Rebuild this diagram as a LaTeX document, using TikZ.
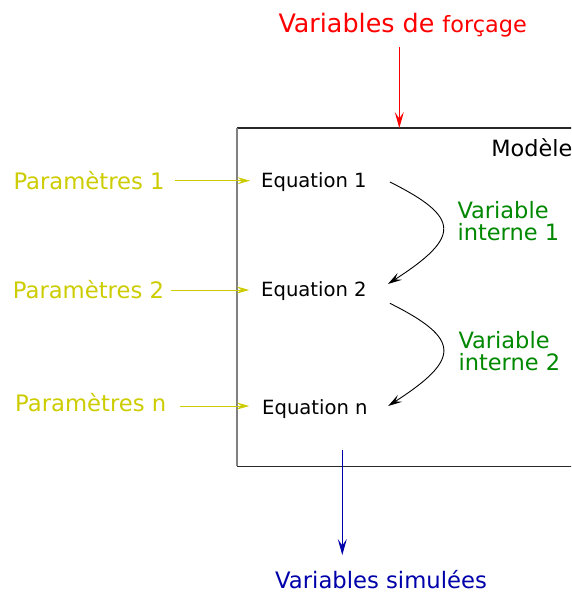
\documentclass[tikz,border=0pt]{standalone}
\usepackage{fontspec}
\setmainfont{DejaVu Sans}
\usetikzlibrary{arrows.meta}
\definecolor{cred}{RGB}{255,0,0}
\definecolor{cyel}{RGB}{204,204,0}
\definecolor{cgreen}{RGB}{0,136,0}
\definecolor{cblue}{RGB}{0,0,170}
\definecolor{boxdark}{RGB}{40,40,40}
\definecolor{boxgray}{RGB}{128,128,128}
\tikzset{
  lbl/.style={anchor=base west, inner sep=0pt},
  eqlbl/.style={lbl, font=\fontsize{19.6}{19.6}\selectfont},
  parlbl/.style={lbl, text=cyel, font=\fontsize{22.7}{22.7}\selectfont},
  varlbl/.style={anchor=north west, inner sep=0pt, align=left, text=cgreen, font=\fontsize{22.5}{22}\selectfont},
  yelarr/.style={draw=cyel, line width=1pt, -{Stealth[length=12.5pt,width=7pt,inset=4.5pt]}},
  redarr/.style={draw=cred, line width=1pt, -{Stealth[length=16pt,width=9pt,inset=6.5pt]}},
  bluarr/.style={draw=cblue, line width=1pt, -{Stealth[length=16pt,width=9pt,inset=6.5pt]}},
  blkarr/.style={draw=black, line width=0.9pt, -{Stealth[length=14pt,width=8pt,inset=5.5pt]}},
  boxline/.style={draw=boxdark, line width=1.5pt}
}
\begin{document}
\begin{tikzpicture}[x=1pt,y=-1pt]
\useasboundingbox (0,0) rectangle (571,592);
\clip (0,0) rectangle (571,592);
% box
\node[minimum width=370pt, minimum height=338pt, anchor=north west, inner sep=0pt] (model) at (237,128) {};
\draw[boxline] (model.south west) -- (model.south east) -- (model.north east) -- (model.north west);
\draw[draw=boxgray, line width=1.8pt] (model.north west) -- (model.south west);
% texts
\node[lbl, text=cred, font=\fontsize{25.4}{25.4}\selectfont] (title) at (278.3,32.3) {Variables de {\fontsize{22.4}{22.4}\selectfont forçage}};
\node[lbl, font=\fontsize{22.4}{22.4}\selectfont] (modl) at (491.2,156) {Modèle};
\node[eqlbl] (eq1) at (261,187.5) {Equation 1};
\node[eqlbl] (eq2) at (261,296) {Equation 2};
\node[eqlbl] (eqn) at (262,414) {Equation n};
\node[parlbl] (p1) at (13.3,189) {Paramètres 1};
\node[parlbl] (p2) at (12.7,298) {Paramètres 2};
\node[parlbl] (pn) at (15,411.5) {Paramètres n};
\node[varlbl] (vi1) at (457.3,201.4) {Variable\\interne 1};
\node[varlbl] (vi2) at (458.3,331.4) {Variable\\interne 2};
\node[lbl, text=cblue, font=\fontsize{22.7}{22.7}\selectfont] (sim) at (275,588) {Variables simulées};
% forcing arrow
\draw[redarr] ([shift={(121pt,-14.4pt)}]title.base west) coordinate (ra) -- (ra |- model.north);
% parameter arrows
\draw[yelarr] ([shift={(10.4pt,8.3pt)}]p1.base east) -- ([shift={(-11pt,6.8pt)}]eq1.base west);
\draw[yelarr] ([shift={(6.9pt,8pt)}]p2.base east) -- ([shift={(-11.7pt,6pt)}]eq2.base west);
\draw[yelarr] ([shift={(13.4pt,5.5pt)}]pn.base east) -- ([shift={(-12.7pt,8pt)}]eqn.base west);
% internal variable curves
\draw[blkarr] ([shift={(23pt,5.5pt)}]eq1.base east) .. controls +(71,35.5) and +(73,-47) .. ([shift={(21pt,12pt)}]eq2.base east);
\draw[blkarr] ([shift={(23pt,-7.3pt)}]eq2.base east) .. controls +(71,35.5) and +(73,-47) .. ([shift={(20.3pt,8pt)}]eqn.base east);
% output arrow
\draw[bluarr] ([shift={(105.3pt,16.7pt)}]model.south west) -- ([shift={(67.3pt,33pt)}]sim.base west);
\end{tikzpicture}
\end{document}
